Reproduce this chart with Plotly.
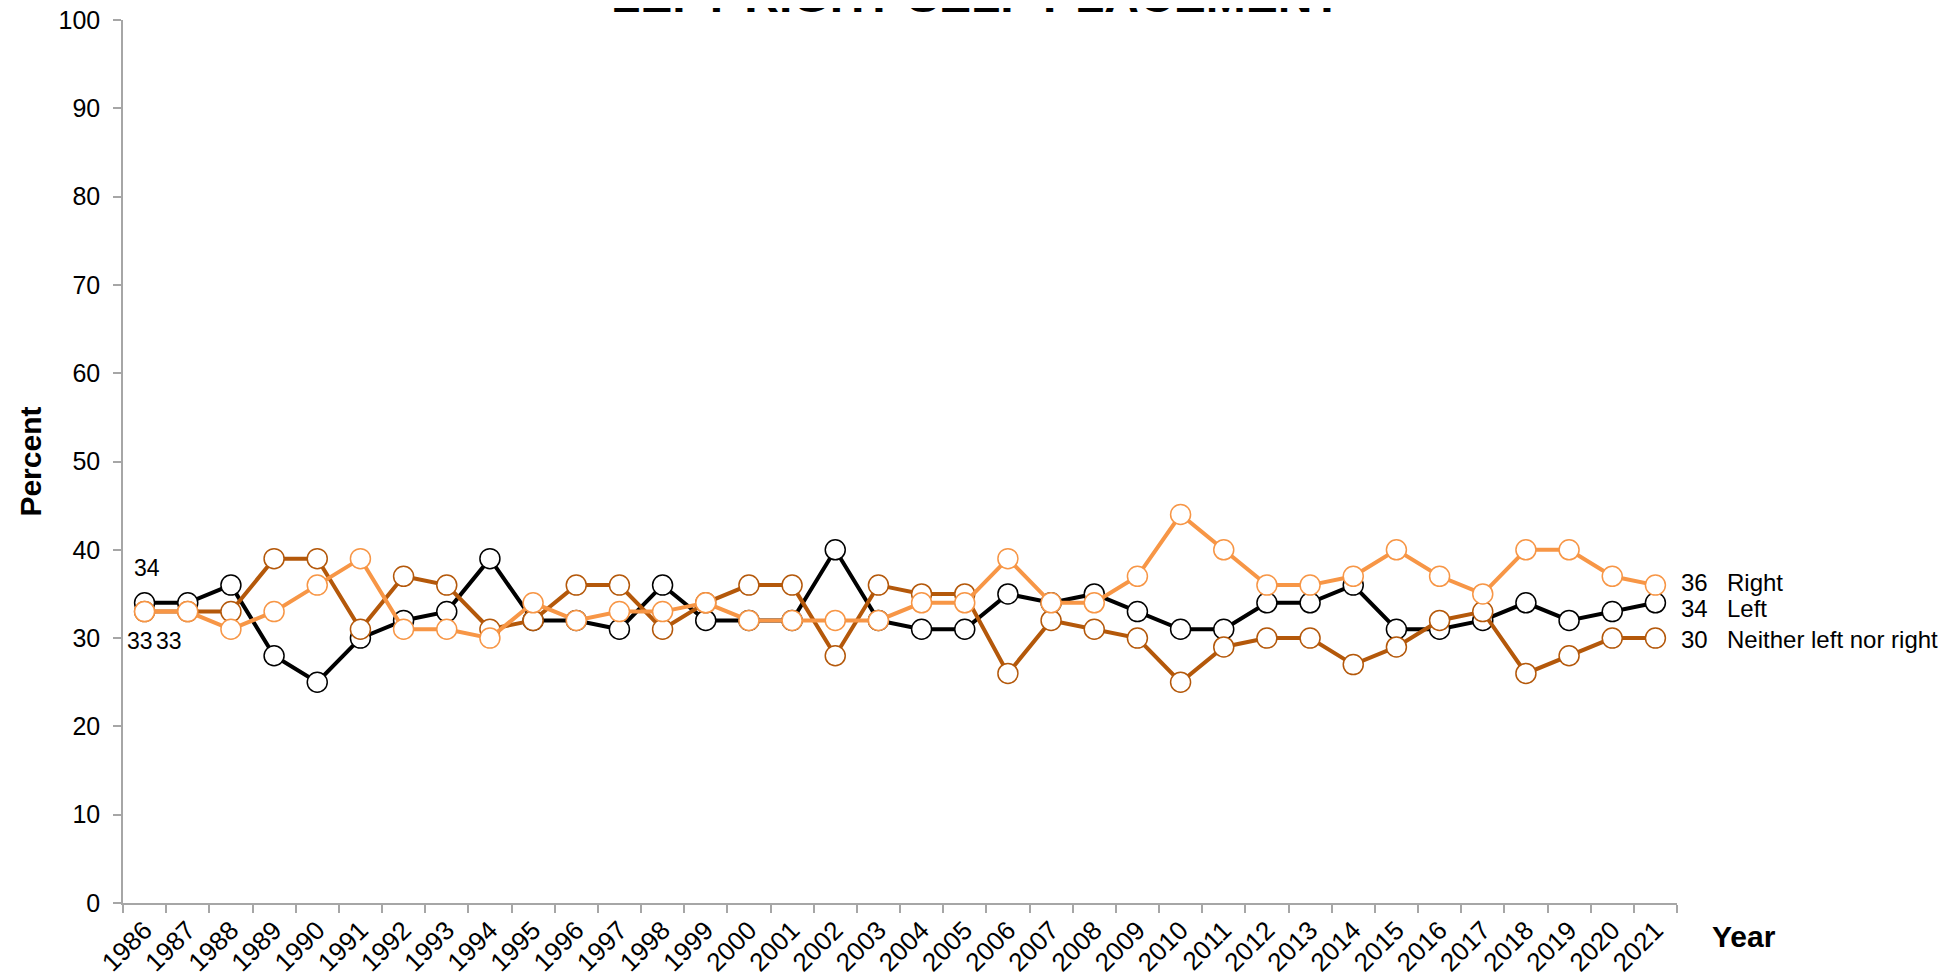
import plotly.graph_objects as go

years = [str(y) for y in range(1986, 2022)]

left = [34, 34, 36, 28, 25, 30, 32, 33, 39, 32, 32, 31, 36, 32, 32, 32, 40, 32,
        31, 31, 35, 34, 35, 33, 31, 31, 34, 34, 36, 31, 31, 32, 34, 32, 33, 34]
right = [33, 33, 31, 33, 36, 39, 31, 31, 30, 34, 32, 33, 33, 34, 32, 32, 32, 32,
         34, 34, 39, 34, 34, 37, 44, 40, 36, 36, 37, 40, 37, 35, 40, 40, 37, 36]
neither = [33, 33, 33, 39, 39, 31, 37, 36, 31, 32, 36, 36, 31, 34, 36, 36, 28, 36,
           35, 35, 26, 32, 31, 30, 25, 29, 30, 30, 27, 29, 32, 33, 26, 28, 30, 30]

names = ["Left", "Neither left nor right", "Right"]
colors = {"Left": "#000000", "Neither left nor right": "#B4580A", "Right": "#F79646"}
series = {"Left": left, "Neither left nor right": neither, "Right": right}

FONT = "Liberation Sans, Arial, sans-serif"

fig = go.Figure()
for n in names:
    fig.add_trace(go.Scatter(
        x=years, y=series[n], mode="lines+markers", name=n,
        line=dict(color=colors[n], width=4),
        marker=dict(size=20, color="white", line=dict(color=colors[n], width=1.5)),
        cliponaxis=False,
    ))

first = years.index(years[0])
ann = []
# first-point labels
ann.append(dict(x=first, y=left[0], text=str(left[0]), showarrow=False,
                xshift=2, yshift=35, font=dict(size=23, color="black")))
ann.append(dict(x=first, y=right[0], text=str(right[0]), showarrow=False,
                xshift=-5, yshift=-29, font=dict(size=23, color="black")))
ann.append(dict(x=first, y=neither[0], text=str(neither[0]), showarrow=False,
                xshift=24, yshift=-29, font=dict(size=23, color="black")))
# end labels
end_shift = {"Right": 3, "Left": -6, "Neither left nor right": -1}
for n in names:
    v = series[n][-1]
    ann.append(dict(xref="paper", x=1, y=v, yref="y", text=str(v), showarrow=False,
                    xanchor="left", xshift=2, yshift=end_shift[n],
                    font=dict(size=24, color="black")))
    ann.append(dict(xref="paper", x=1, y=v, yref="y", text=n, showarrow=False,
                    xanchor="left", xshift=48, yshift=end_shift[n],
                    font=dict(size=24, color="black")))
# title
ann.append(dict(xref="paper", yref="paper", x=0.549, y=1.028, xanchor="center",
                yanchor="middle", text="<b>LEFT RIGHT SELF PLACEMENT</b>", showarrow=False,
                font=dict(size=48, color="black")))
# axis titles
ann.append(dict(xref="paper", yref="paper", x=-0.0598, y=0.5, textangle=-90,
                xanchor="center", yanchor="middle",
                text="<b>Percent</b>", showarrow=False, font=dict(size=30, color="black")))
ann.append(dict(xref="paper", yref="paper", x=1.0431, y=-0.0374,
                xanchor="center", yanchor="middle",
                text="<b>Year</b>", showarrow=False, font=dict(size=30, color="black")))

fig.update_layout(
    width=1957, height=978,
    margin=dict(l=115, r=288, t=12, b=83, pad=0, autoexpand=False),
    paper_bgcolor="white", plot_bgcolor="white",
    showlegend=False,
    font=dict(family=FONT, color="black"),
    annotations=ann,
    xaxis=dict(type="category", tickson="boundaries", ticks="outside", ticklen=8,
               tickcolor="#A6A6A6", tickwidth=1.5, showline=True, linecolor="#A6A6A6",
               linewidth=1.5, showgrid=False, tickangle=-45, automargin=False,
               tickfont=dict(size=26, color="black"), range=[-0.5, 35.5],
               ticklabeloverflow="allow"),
    yaxis=dict(range=[0, 100], dtick=10, ticks="outside", ticklen=8,
               tickcolor="#A6A6A6", tickwidth=1.5, showline=True, linecolor="#A6A6A6",
               linewidth=1.5, showgrid=False, zeroline=False, automargin=False,
               tickfont=dict(size=25, color="black"), ticklabelstandoff=8,
               ticklabeloverflow="allow"),
)

fig.write_html("out.html")
